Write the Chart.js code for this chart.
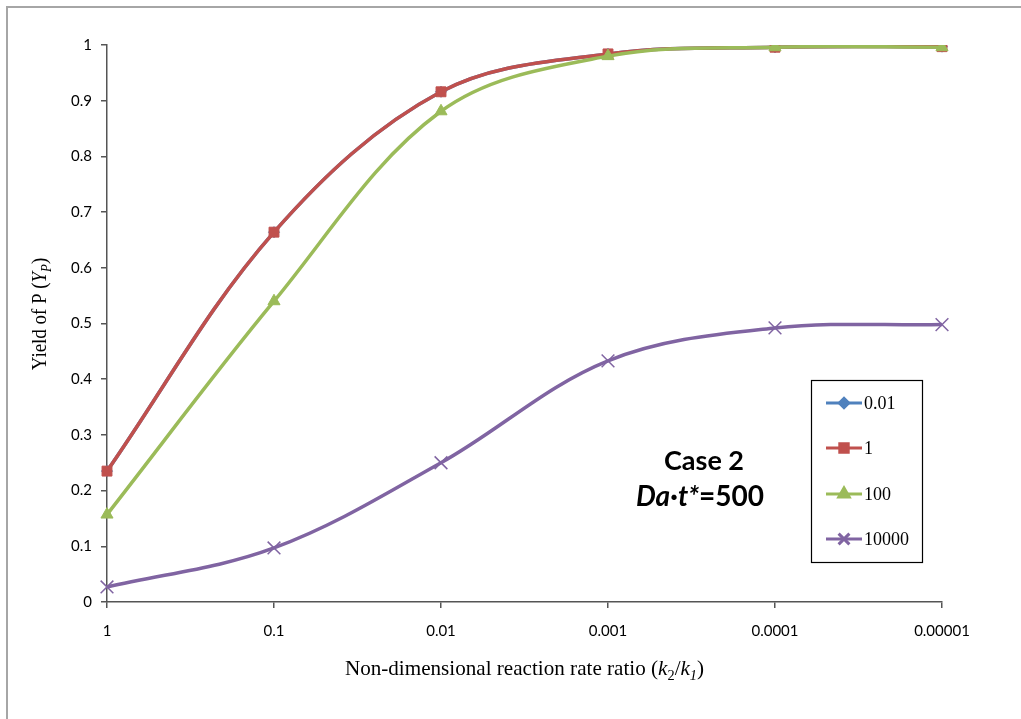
<!DOCTYPE html>
<html>
<head>
<meta charset="utf-8">
<script src="https://cdn.jsdelivr.net/npm/chart.js@4"></script>
<style>
html,body{margin:0;padding:0;background:#fff;}
canvas{display:block;}
</style>
</head>
<body>
<canvas id="c" width="1021" height="719"></canvas>
<script>
// ---- data ----
const categories = ["1", "0.1", "0.01", "0.001", "0.0001", "0.00001"];
const seriesNames = ["0.01", "1", "100", "10000"];
const series001   = [0.235, 0.664, 0.916, 0.984, 0.996, 0.997];
const series1     = [0.235, 0.664, 0.916, 0.984, 0.996, 0.997];
const series100   = [0.157, 0.540, 0.881, 0.980, 0.996, 0.996];
const series10000 = [0.027, 0.097, 0.250, 0.433, 0.492, 0.498];
const yTicks = [0, 0.1, 0.2, 0.3, 0.4, 0.5, 0.6, 0.7, 0.8, 0.9, 1];

const colors = ["#4F81BD", "#C0504D", "#9BBB59", "#8064A2"];
const markers = ["rectRot", "rect", "triangle", "crossRot"];
const radii = [5.5, 7, 7, 9];

const allSeries = [series001, series1, series100, series10000];

const datasets = allSeries.map((d, i) => ({
  label: seriesNames[i],
  data: d,
  borderColor: colors[i],
  backgroundColor: colors[i],
  pointBackgroundColor: colors[i],
  pointBorderColor: colors[i],
  pointStyle: markers[i],
  pointRadius: radii[i],
  pointBorderWidth: markers[i] === "crossRot" ? 1.5 : 1,
  borderWidth: 3.5,
  tension: 0.35,
  fill: false,
  order: 4 - i
}));

function drawRich(ctx, segs, x, y) {
  let total = 0;
  segs.forEach(s => { ctx.font = s.font; total += ctx.measureText(s.text).width; });
  let cx = x - total / 2;
  segs.forEach(s => {
    ctx.font = s.font;
    ctx.fillText(s.text, cx, y + (s.dy || 0));
    cx += ctx.measureText(s.text).width;
  });
}

const extras = {
  id: "extras",
  afterDraw(chart) {
    const ctx = chart.ctx;
    const area = chart.chartArea;
    ctx.save();
    // outer border (top & left)
    ctx.strokeStyle = "#a6a6a6";
    ctx.lineWidth = 2;
    ctx.beginPath();
    ctx.moveTo(7, 719); ctx.lineTo(7, 7); ctx.lineTo(1021, 7);
    ctx.stroke();

    ctx.fillStyle = "#000";
    ctx.textBaseline = "alphabetic";
    ctx.textAlign = "left";
    const serif = "22px 'Liberation Serif', 'Times New Roman', serif";
    const serifI = "italic 22px 'Liberation Serif', 'Times New Roman', serif";
    const sub = "15px 'Liberation Serif', 'Times New Roman', serif";
    const subI = "italic 15px 'Liberation Serif', 'Times New Roman', serif";
    // x title
    ctx.save();
    ctx.translate((area.left + area.right) / 2, 675);
    ctx.scale(0.96, 1);
    drawRich(ctx, [
      {text: "Non-dimensional reaction rate ratio (", font: serif},
      {text: "k", font: serifI},
      {text: "2", font: sub, dy: 5},
      {text: "/", font: serif},
      {text: "k", font: serifI},
      {text: "1", font: subI, dy: 5},
      {text: ")", font: serif}
    ], 0, 0);
    ctx.restore();

    // y title
    ctx.save();
    ctx.translate(46, 314);
    ctx.rotate(-Math.PI / 2);
    ctx.scale(0.86, 1);
    drawRich(ctx, [
      {text: "Yield of P (", font: serif},
      {text: "Y", font: serifI},
      {text: "P", font: subI, dy: 5},
      {text: ")", font: serif}
    ], 0, 0);
    ctx.restore();

    // annotation
    ctx.font = "bold 27px Lato, 'Open Sans', sans-serif";
    ctx.textAlign = "center";
    ctx.fillText("Case 2", 704, 470);
    ctx.textAlign = "left";
    drawRich(ctx, [
      {text: "Da\u00B7t*", font: "italic bold 28px Lato, 'Open Sans', sans-serif"},
      {text: "=500", font: "bold 28px Lato, 'Open Sans', sans-serif"}
    ], 700, 506);

    // legend
    const lx = 811, ly = 380, lw = 111, lh = 182;
    ctx.strokeStyle = "#000";
    ctx.lineWidth = 1.2;
    ctx.strokeRect(lx + 0.5, ly + 0.5, lw, lh);
    const rowY = [403, 448, 494, 539];
    chart.data.datasets.forEach((ds, i) => {
      const y = rowY[i];
      ctx.strokeStyle = ds.borderColor;
      ctx.lineWidth = 3;
      ctx.beginPath();
      ctx.moveTo(826, y); ctx.lineTo(862, y);
      ctx.stroke();
      ctx.fillStyle = ds.borderColor;
      Chart.helpers.drawPoint(ctx, {
        pointStyle: ds.pointStyle, radius: ds.pointRadius * 0.85, borderWidth: ds.pointBorderWidth, rotation: 0
      }, 844, y);
      ctx.fillStyle = "#000";
      ctx.font = "18px 'Liberation Serif', 'Times New Roman', serif";
      ctx.textAlign = "left";
      ctx.textBaseline = "middle";
      ctx.fillText(ds.label, 864, y + 1);
    });
    ctx.restore();
  }
};

const tickFont = {family: "Lato, 'Open Sans', sans-serif", size: 15};

new Chart(document.getElementById("c"), {
  type: "line",
  data: { labels: categories, datasets: datasets },
  options: {
    responsive: false,
    animation: false,
    devicePixelRatio: 1,
    layout: { padding: { top: 45, right: 79, left: 0, bottom: 0 } },
    plugins: { legend: { display: false }, tooltip: { enabled: false } },
    scales: {
      x: {
        type: "category",
        offset: false,
        grid: { display: true, drawOnChartArea: false, drawTicks: true, tickLength: 6, color: "#555", lineWidth: 1.5, offset: false },
        border: { color: "#555", width: 1.5 },
        ticks: { color: "#000", font: tickFont, padding: 14, maxRotation: 0, autoSkip: false },
        afterFit: s => { s.height = 117; }
      },
      y: {
        min: 0, max: 1,
        afterBuildTicks: s => { s.ticks = yTicks.map(v => ({value: v})); },
        grid: { display: true, drawOnChartArea: false, drawTicks: true, tickLength: 6, color: "#555", lineWidth: 1.5 },
        border: { color: "#555", width: 1.5 },
        ticks: { color: "#000", font: tickFont, padding: 9, callback: v => String(+v.toFixed(1)) },
        afterFit: s => { s.width = 107; }
      }
    }
  },
  plugins: [extras]
});
</script>
</body>
</html>
